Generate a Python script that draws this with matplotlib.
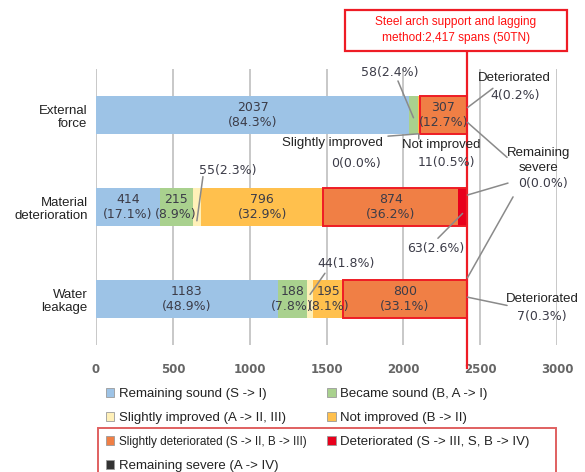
import numpy as np
import matplotlib
matplotlib.use('Agg')
import matplotlib.pyplot as plt
from matplotlib.patches import Patch, Rectangle

# %% Data
categories = ['External\nforce', 'Material\ndeterioration', 'Water\nleakage']
status_names = ['Remaining sound (S -> I)', 'Became sound (B, A -> I)',
                'Slightly improved (A -> II, III)', 'Not improved (B -> II)',
                'Slightly deteriorated (S -> II, B -> III)',
                'Deteriorated (S -> III, S, B -> IV)', 'Remaining severe (A -> IV)']
status_colors = ['#9dc3e6', '#a9d18e', '#fff0b8', '#ffc04d',
                 '#f07f45', '#e8001c', '#333333']

external_force = [2037, 58, 0, 11, 307, 4, 0]
material_deterioration = [414, 215, 55, 796, 874, 63, 0]
water_leakage = [1183, 188, 44, 195, 800, 7, 0]
total_spans = 2417
x_ticks = [0, 500, 1000, 1500, 2000, 2500, 3000]

# segments with the value written inside the bar
inside_labels = [[0, 4], [0, 1, 3, 4], [0, 1, 3, 4]]

# %% Settings
num_font = 'DejaVu Sans'
txt_font = 'Liberation Sans'
num_color = '#3c3c48'
lead_color = '#8a8a8a'

rows = [external_force, material_deterioration, water_leakage]
lefts = [np.concatenate([[0], np.cumsum(r)[:-1]]) for r in rows]


def pct(v):
    return f'{v}({v / total_spans * 100:.1f}%)'


fig = plt.figure(figsize=(5.85, 4.72), dpi=100)
ax = fig.add_axes([96 / 585, 1 - 345 / 472, 461 / 585, 276 / 472])

bar_h = 0.41
for rr, vals in enumerate(rows):
    ax.barh(rr, vals, left=lefts[rr], height=bar_h, color=status_colors,
            linewidth=0, zorder=2)
    for ii in inside_labels[rr]:
        v = vals[ii]
        ax.text(lefts[rr][ii] + v / 2, rr, f'{v}\n({v / total_spans * 100:.1f}%)',
                ha='center', va='center', fontsize=9, family=num_font,
                color=num_color, linespacing=1.2, zorder=4)
    # red frame round the deteriorated part
    start = lefts[rr][4]
    ax.add_patch(Rectangle((start, rr - bar_h / 2), total_spans - start, bar_h,
                           fill=False, edgecolor='#ee1c25', lw=1.4, zorder=3))

ax.set_xlim(0, 3000)
ax.set_ylim(2.5, -0.5)
ax.set_xticks(x_ticks)
ax.set_yticks(range(len(categories)))
ax.set_yticklabels(categories, family=txt_font, fontsize=9.5, color='#222222')
for lab in ax.get_xticklabels():
    lab.set_family(num_font)
    lab.set_weight('bold')
    lab.set_fontsize(8.5)
    lab.set_color('#666666')
ax.tick_params(axis='x', length=0, pad=13)
ax.tick_params(axis='y', length=0, pad=6)
ax.grid(axis='x', color='#c4c4c4', lw=1.3, zorder=0)
for sp in ax.spines.values():
    sp.set_visible(False)

# red total line
ax.plot([total_spans, total_spans], [-0.696, 2.75], color='#ee1c25', lw=1.6,
        clip_on=False, zorder=5)

# %% Leader lines and outside labels
E, M, W = 0, 1, 2


def lead(x0, y0, x1, y1):
    ax.annotate('', xy=(x1, y1), xytext=(x0, y0),
                arrowprops=dict(arrowstyle='-', color=lead_color, lw=1.1,
                                shrinkA=0, shrinkB=0), zorder=6)


def seg_mid(rr, ii):
    return lefts[rr][ii] + rows[rr][ii] / 2


def num(x, y, s):
    ax.text(x, y, s, ha='center', va='center', fontsize=9, family=num_font,
            color=num_color, zorder=6)


def word(x, y, s):
    ax.text(x, y, s, ha='center', va='center', fontsize=9.5, family=txt_font,
            color='#222222', zorder=6)


num(1913, -0.457, pct(external_force[1]))
lead(1965, -0.37, seg_mid(E, 1), 0.03)

word(1536, 0.304, 'Slightly improved')
num(1692, 0.53, pct(external_force[2]))
lead(1900, 0.23, lefts[E][2], bar_h / 2)

word(2245, 0.326, 'Not improved')
num(2278, 0.52, pct(external_force[3]))
lead(seg_mid(E, 3), 0.26, seg_mid(E, 3), bar_h / 2)

word(2720, -0.40, 'Deteriorated')
num(2727, -0.21, pct(external_force[5]))
lead(2583, -0.29, total_spans, -0.08)

word(2882, 0.41, 'Remaining')
word(2882, 0.576, 'severe')
num(2908, 0.74, pct(external_force[6]))
lead(2675, 0.46, total_spans, 0.08)
lead(2681, 0.74, total_spans, M - 0.13)
lead(2714, 0.89, total_spans, W - 0.23)

num(859, 0.598, pct(material_deterioration[2]))
lead(696, 0.67, seg_mid(M, 2), M + 0.15)

num(2212, 1.446, pct(material_deterioration[5]))
lead(2225, 1.34, seg_mid(M, 5), M + 0.07)

num(1627, 1.61, pct(water_leakage[2]))
lead(1490, 1.72, seg_mid(W, 2), W - 0.05)

word(2902, 2.0, 'Deteriorated')
num(2902, 2.185, pct(water_leakage[5]))
lead(2675, 2.07, total_spans, W - 0.02)

# %% Title box
fig.add_artist(Rectangle((345 / 585, 1 - 51 / 472), 222 / 585, 41 / 472,
                         transform=fig.transFigure, facecolor='white',
                         edgecolor='#ee1c25', lw=1.6))
fig.text(456 / 585, 1 - 30 / 472,
         'Steel arch support and lagging\nmethod:2,417 spans (50TN)',
         ha='center', va='center', color='#ff1010', family=txt_font,
         fontsize=8.6, linespacing=1.35)

# %% Legend
order = [0, 2, 4, 6, 1, 3, 5]
handles = [Patch(facecolor=status_colors[i], edgecolor='#9a9a9a', lw=0.6)
           for i in order]
leg = fig.legend(handles, [status_names[i] for i in order], ncol=2,
                 loc='upper left', bbox_to_anchor=(94 / 585, 1 - 376 / 472),
                 frameon=False, handlelength=0.65, handleheight=0.65,
                 handletextpad=0.35, columnspacing=1.55, labelspacing=0.92,
                 prop={'family': txt_font, 'size': 9.5})
for t in leg.get_texts():
    t.set_color('#222222')
leg.get_texts()[2].set_fontsize(8.5)

fig.add_artist(Rectangle((98 / 585, -0.05), 458 / 585, 0.05 + (472 - 428) / 472,
                         transform=fig.transFigure, fill=False,
                         edgecolor='#e06060', lw=1.4))

fig.savefig('out.png', dpi=100)
